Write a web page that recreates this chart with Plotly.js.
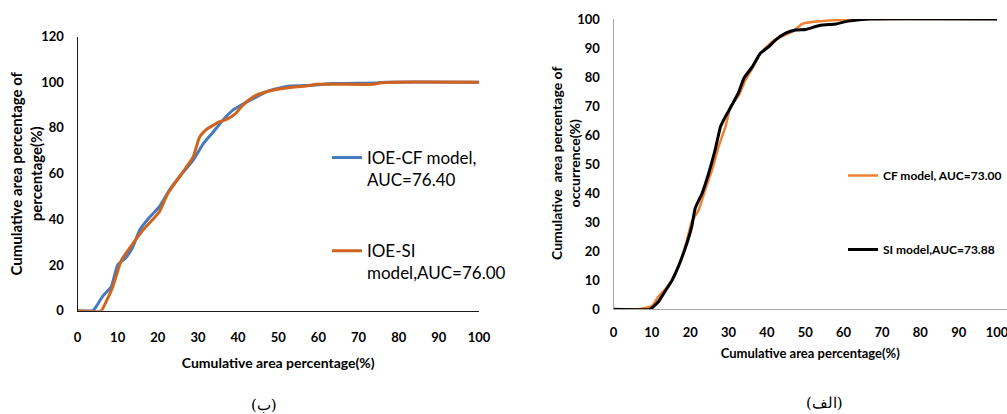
<!DOCTYPE html>
<html>
<head>
<meta charset="utf-8">
<script src="https://cdn.plot.ly/plotly-3.0.1.min.js"></script>
<style>html,body{margin:0;padding:0;background:#fff;}#chart{width:1007px;height:414px;}</style>
</head>
<body>
<div id="chart"></div>
<script>
// Left panel (ب)
const cfLeftX = [0, 3.8, 4.6, 6.3, 8.4, 10.0, 12.1, 13.8, 15.5, 18.0, 20.4, 22.9, 25.4, 28.8, 31.3, 33.7, 36.2, 38.7, 41.2, 44.6, 47.0, 50.4, 52.9, 58.7, 63.7, 74.5, 77.0, 100];
const cfLeftY = [0, 0, 1.7, 6.4, 10.5, 20.0, 23.3, 28.0, 35.3, 41.0, 45.5, 52.8, 58.6, 65.9, 73.0, 78.0, 83.4, 87.8, 90.4, 93.6, 95.8, 97.5, 98.3, 98.7, 99.4, 99.7, 100, 100];
const siLeftX = [0, 5.9, 7.1, 8.8, 10.9, 12.6, 13.8, 16.3, 18.8, 20.4, 22.5, 25.4, 28.8, 30.4, 32.1, 35.4, 37.1, 39.2, 41.2, 44.1, 47.0, 49.5, 52.9, 57.0, 59.5, 73.7, 75.3, 78.6, 100];
const siLeftY = [0, 0, 3.9, 10.5, 22.0, 26.5, 29.4, 35.3, 40.0, 43.3, 51.3, 58.6, 67.3, 76.0, 79.3, 82.7, 83.7, 86.0, 90.0, 93.9, 95.8, 96.8, 97.7, 98.3, 99.1, 99.1, 99.7, 100, 100];

// Right panel (الف)
const cfRightX = [0, 6.5, 10.0, 11.7, 13.4, 15.2, 16.9, 18.7, 20.4, 22.2, 23.9, 25.7, 27.4, 29.2, 30.5, 32.7, 34.4, 36.2, 38.3, 41.4, 44.0, 46.6, 49.2, 52.7, 58.8, 62.4, 100];
const cfRightY = [0, 0, 1.1, 4.4, 6.7, 10.1, 14.7, 21.6, 30.2, 34.2, 41.1, 48.0, 56.0, 62.9, 69.8, 73.8, 79.0, 83.0, 88.2, 92.2, 94.1, 95.6, 98.3, 99.1, 99.7, 100, 100];
const siRightX = [0, 9.5, 10.4, 11.7, 13.4, 15.2, 16.9, 18.7, 20.4, 21.3, 23.1, 24.8, 26.5, 27.9, 29.2, 30.9, 32.7, 34.0, 36.2, 38.3, 40.5, 42.3, 44.9, 47.5, 50.1, 52.7, 54.5, 58.0, 60.6, 64.1, 66.7, 100];
const siRightY = [0, 0, 0.9, 2.6, 6.1, 9.8, 14.7, 21.0, 28.5, 34.8, 40.0, 46.8, 54.9, 62.9, 66.4, 70.4, 75.0, 79.6, 83.6, 88.2, 90.5, 92.8, 95.1, 96.2, 96.4, 97.4, 97.9, 98.3, 99.1, 99.7, 100, 100];

const tickVals = [0, 10, 20, 30, 40, 50, 60, 70, 80, 90, 100];
const leftYTicks = [0, 20, 40, 60, 80, 100, 120];
const rightYTicks = [0, 10, 20, 30, 40, 50, 60, 70, 80, 90, 100];

const nameCFLeft = 'IOE-CF model,<br>AUC=76.40';
const nameSILeft = 'IOE-SI<br>model,AUC=76.00';
const nameCFRight = 'CF model, AUC=73.00';
const nameSIRight = 'SI model,AUC=73.88';
const xTitle = 'Cumulative area percentage(%)';
const yTitleLeft = 'Cumulative area percentage of<br>percentage(%)';
const yTitleRight = 'Cumulative  area percentage of<br>occurrence(%)';
const panelLeft = '(ب)';
const panelRight = '(الف)';

const FONT = 'Lato, "Open Sans", sans-serif';

const traces = [
  {x: cfLeftX, y: cfLeftY, type: 'scatter', mode: 'lines', name: nameCFLeft,
   line: {color: '#4679BD', width: 3, shape: 'spline', smoothing: 0.5}, xaxis: 'x', yaxis: 'y', legend: 'legend', legendgroup: 'a'},
  {x: siLeftX, y: siLeftY, type: 'scatter', mode: 'lines', name: nameSILeft,
   line: {color: '#D0641E', width: 3, shape: 'spline', smoothing: 0.5}, xaxis: 'x', yaxis: 'y', legend: 'legend', legendgroup: 'b'},
  {x: cfRightX, y: cfRightY, type: 'scatter', mode: 'lines', name: nameCFRight,
   line: {color: '#F08030', width: 2.5, shape: 'spline', smoothing: 0.4}, xaxis: 'x2', yaxis: 'y2', legend: 'legend2', legendgroup: 'c'},
  {x: siRightX, y: siRightY, type: 'scatter', mode: 'lines', name: nameSIRight,
   line: {color: '#000000', width: 3, shape: 'spline', smoothing: 0.4}, xaxis: 'x2', yaxis: 'y2', legend: 'legend2', legendgroup: 'd'}
];

const tickFont = {family: FONT, size: 13, color: '#000', weight: 'bold'};
const titleFont = (s) => ({family: FONT, size: s, weight: 'bold', color: '#000'});

const layout = {
  width: 1007, height: 414,
  margin: {l: 0, r: 0, t: 0, b: 0, autoexpand: false},
  paper_bgcolor: '#fff', plot_bgcolor: '#fff',
  font: {family: FONT, color: '#000'},
  xaxis: {
    domain: [77.5/1007, 479/1007], range: [0, 100], tickvals: tickVals,
    showgrid: false, zeroline: false, showline: true, linecolor: '#1a1a1a', linewidth: 1,
    ticks: '', ticklabelstandoff: 15, tickfont: tickFont, fixedrange: true, automargin: false,
    title: {text: xTitle, font: titleFont(14), standoff: 13}
  },
  yaxis: {
    domain: [103.3/414, 377.5/414], range: [0, 120], tickvals: leftYTicks,
    showgrid: false, zeroline: false, showline: true, linecolor: '#1a1a1a', linewidth: 1,
    ticks: '', ticklabelstandoff: 10, tickfont: tickFont, fixedrange: true, automargin: false
  },
  xaxis2: {
    domain: [613.5/1007, 1], range: [0, 102.6], tickvals: tickVals, anchor: 'y2',
    showgrid: false, zeroline: false, showline: true, linecolor: '#A6A6A6', linewidth: 1,
    ticks: '', ticklabelstandoff: 11, ticklabeloverflow: 'allow', tickfont: tickFont, fixedrange: true, automargin: false,
    title: {text: xTitle, font: titleFont(13), standoff: 9}
  },
  yaxis2: {
    domain: [104.7/414, 395/414], range: [0, 100], tickvals: rightYTicks, anchor: 'x2',
    showgrid: false, zeroline: false, showline: true, linecolor: '#A6A6A6', linewidth: 1,
    ticks: '', ticklabelstandoff: 10, tickfont: tickFont, fixedrange: true, automargin: false
  },
  showlegend: true,
  legend: {
    x: 327/1007, y: 1 - 140/414, xanchor: 'left', yanchor: 'top',
    bgcolor: 'rgba(0,0,0,0)', borderwidth: 0,
    font: {family: FONT, size: 17, color: '#000'},
    traceorder: 'grouped', tracegroupgap: 46, valign: 'top', itemwidth: 30
  },
  legend2: {
    x: 843/1007, y: 1 - 161/414, xanchor: 'left', yanchor: 'top',
    bgcolor: 'rgba(0,0,0,0)', borderwidth: 0,
    font: {family: FONT, size: 12, color: '#000', weight: 'bold'},
    traceorder: 'grouped', tracegroupgap: 55, valign: 'middle', itemwidth: 30
  },
  annotations: [
    {text: yTitleLeft, xref: 'paper', yref: 'paper', x: 26/1007, y: 1 - 173.6/414,
     xanchor: 'center', yanchor: 'middle', textangle: -90, showarrow: false,
     font: titleFont(15)},
    {text: yTitleRight, xref: 'paper', yref: 'paper', x: 565/1007, y: 1 - 164/414,
     xanchor: 'center', yanchor: 'middle', textangle: -90, showarrow: false,
     font: titleFont(14)},
    {text: panelLeft, xref: 'paper', yref: 'paper', x: 264/1007, y: 1 - 405/414,
     xanchor: 'center', yanchor: 'middle', showarrow: false,
     font: {family: '"DejaVu Serif", "Liberation Serif", serif', size: 15, color: '#000'}},
    {text: panelRight, xref: 'paper', yref: 'paper', x: 824/1007, y: 1 - 403/414,
     xanchor: 'center', yanchor: 'middle', showarrow: false,
     font: {family: '"DejaVu Serif", "Liberation Serif", serif', size: 15, color: '#000'}}
  ]
};

Plotly.newPlot('chart', traces, layout, {displayModeBar: false, staticPlot: true});
</script>
</body>
</html>
